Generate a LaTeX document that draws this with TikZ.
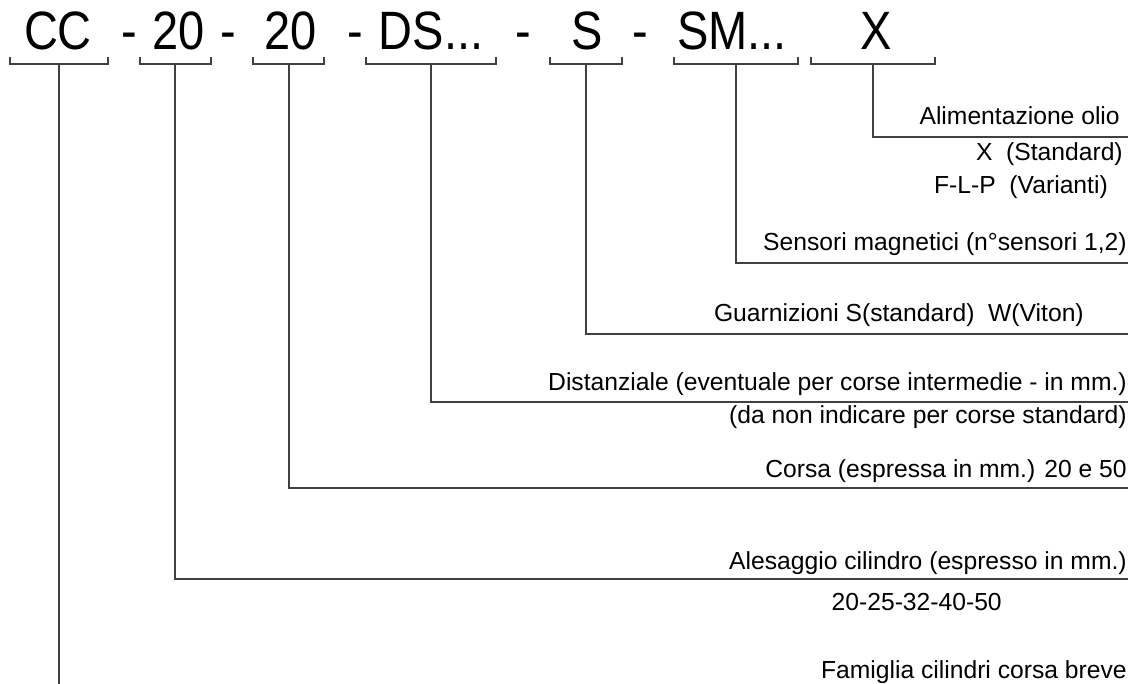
\documentclass[tikz,border=0pt]{standalone}
\usepackage{fontspec}
\setmainfont{Liberation Sans}
\newfontfamily\codefont[FakeStretch=0.87]{Liberation Sans}

\begin{document}
\begin{tikzpicture}[x=0.75pt,y=-0.75pt,
   code/.style={font=\codefont\fontsize{40.5}{40.5}\selectfont,inner sep=0,anchor=base},
   lab/.style={font=\fontsize{18.5}{18.5}\selectfont,inner sep=0,anchor=base east},
   lead/.style={draw=black!75,line width=0.9pt}]
   \useasboundingbox (0,0) rectangle (1133,684);
   % the code letters
   \node[code] (cc)  at (58,50)  {CC};
   \node[code] (m1)  at (129,50) {-};
   \node[code] (bore) at (179,50) {20};
   \node[code] (m2)  at (228,50) {-};
   \node[code] (run) at (291,50) {20};
   \node[code] (m3)  at (355,50) {-};
   \node[code] (ds)  at (431,50) {DS...};
   \node[code] (m4)  at (523,50) {-};
   \node[code] (seal) at (587,50) {S};
   \node[code] (m5)  at (640,50) {-};
   \node[code] (sm)  at (732,50) {SM...};
   \node[code] (oil) at (876,50) {X};
   % brackets under the letters
   \draw[lead] (10,57) |- (108,64) -- (108,57);
   \draw[lead] (140,57) |- (211,64) -- (211,57);
   \draw[lead] (253,57) |- (324,64) -- (324,57);
   \draw[lead] (366,57) |- (496,64) -- (496,57);
   \draw[lead] (550,57) |- (622,64) -- (622,57);
   \draw[lead] (674,57) |- (798,64) -- (798,57);
   \draw[lead] (811,57) |- (935,64) -- (935,57);
   \coordinate (k1) at (59,64);
   \coordinate (k2) at (175,64);
   \coordinate (k3) at (289,64);
   \coordinate (k4) at (431,64);
   \coordinate (k5) at (586,64);
   \coordinate (k6) at (736,64);
   \coordinate (k7) at (873,64);
   % texts on the right
   \node[lab] (t7)  at (1120,125) {Alimentazione olio};
   \node[lab] (t7a) at (1123,161) {X\ \ (Standard)};
   \node[lab] (t7b) at (1108,194) {F-L-P\ \ (Varianti)};
   \node[lab] (t6)  at (1127,251) {Sensori magnetici (n°sensori 1,2)};
   \node[lab] (t5)  at (1084,322) {Guarnizioni S(standard)\ \ W(Viton)};
   \node[lab] (t4)  at (1127,391) {Distanziale (eventuale per corse intermedie - in mm.)};
   \node[lab] (t4a) at (1127,424) {(da non indicare per corse standard)};
   \node[lab] (t3)  at (1127,478) {Corsa (espressa in mm.) 20 e 50};
   \node[lab] (t2)  at (1127,570) {Alesaggio cilindro (espresso in mm.)};
   \node[lab] (t2a) at (1002,610) {20-25-32-40-50};
   \node[lab] (t1)  at (1127,678) {Famiglia cilindri corsa breve};
   \coordinate (e7) at (1128,137);
   \coordinate (e6) at (1128,263);
   \coordinate (e5) at (1128,334);
   \coordinate (e4) at (1128,402);
   \coordinate (e3) at (1128,488);
   \coordinate (e2) at (1128,579);
   \coordinate (e1) at (59,684);
   % leaders
   \draw[lead] (k7) |- (e7);
   \draw[lead] (k6) |- (e6);
   \draw[lead] (k5) |- (e5);
   \draw[lead] (k4) |- (e4);
   \draw[lead] (k3) |- (e3);
   \draw[lead] (k2) |- (e2);
   \draw[lead] (k1) -- (e1);
\end{tikzpicture}
\end{document}
